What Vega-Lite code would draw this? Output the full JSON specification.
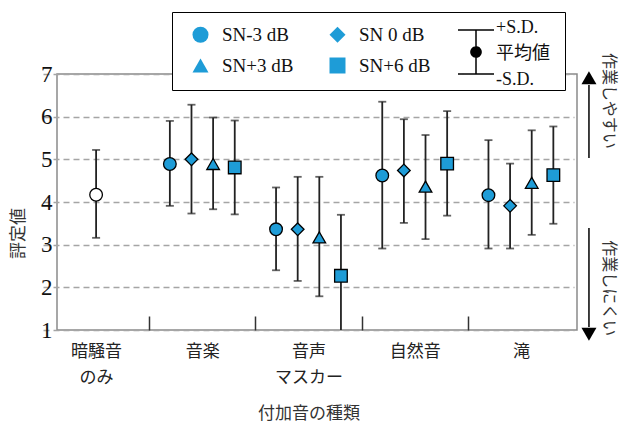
{
  "$schema": "https://vega.github.io/schema/vega-lite/v6.json",
  "width": 520,
  "height": 256,
  "autosize": {"type": "none"},
  "padding": {"left": 57, "top": 74, "right": 45, "bottom": 101},
  "background": "white",
  "config": {
    "view": {"stroke": "#8a8a8a", "strokeWidth": 1.5}
  },
  "layer": [
    {
      "data": {
        "values": [
          {"category": "暗騒音のみ", "series": "none", "mean": 4.17, "low": 3.16, "high": 5.22},
          {"category": "音楽", "series": "SN-3 dB", "mean": 4.89, "low": 3.91, "high": 5.90},
          {"category": "音楽", "series": "SN 0 dB", "mean": 5.00, "low": 3.73, "high": 6.28},
          {"category": "音楽", "series": "SN+3 dB", "mean": 4.89, "low": 3.83, "high": 5.98},
          {"category": "音楽", "series": "SN+6 dB", "mean": 4.81, "low": 3.71, "high": 5.91},
          {"category": "音声マスカー", "series": "SN-3 dB", "mean": 3.36, "low": 2.40, "high": 4.34},
          {"category": "音声マスカー", "series": "SN 0 dB", "mean": 3.36, "low": 2.15, "high": 4.59},
          {"category": "音声マスカー", "series": "SN+3 dB", "mean": 3.17, "low": 1.79, "high": 4.59},
          {"category": "音声マスカー", "series": "SN+6 dB", "mean": 2.27, "low": 0.84, "high": 3.70},
          {"category": "自然音", "series": "SN-3 dB", "mean": 4.62, "low": 2.91, "high": 6.35},
          {"category": "自然音", "series": "SN 0 dB", "mean": 4.74, "low": 3.51, "high": 5.94},
          {"category": "自然音", "series": "SN+3 dB", "mean": 4.36, "low": 3.13, "high": 5.57},
          {"category": "自然音", "series": "SN+6 dB", "mean": 4.90, "low": 3.68, "high": 6.13},
          {"category": "滝", "series": "SN-3 dB", "mean": 4.16, "low": 2.91, "high": 5.45},
          {"category": "滝", "series": "SN 0 dB", "mean": 3.91, "low": 2.91, "high": 4.90},
          {"category": "滝", "series": "SN+3 dB", "mean": 4.45, "low": 3.23, "high": 5.68},
          {"category": "滝", "series": "SN+6 dB", "mean": 4.63, "low": 3.49, "high": 5.77}
        ]
      },
      "layer": [
        {
          "transform": [{"filter": "datum.series !== 'none'"}],
          "mark": {"type": "rule", "strokeWidth": 1.8, "color": "#222", "clip": true},
          "encoding": {
            "x": {
              "field": "category", "type": "nominal",
              "scale": {"type": "band", "domain": ["暗騒音のみ", "音楽", "音声マスカー", "自然音", "滝"], "range": [-14, 517], "paddingInner": 0, "paddingOuter": 0},
              "axis": {
                "title": "付加音の種類",
                "titleFont": "Noto Sans CJK JP", "titleFontSize": 17, "titleFontWeight": "normal", "titleColor": "#333",
                "titleY": 83, "titleBaseline": "middle",
                "labelAngle": 0, "labelFont": "Noto Sans CJK JP", "labelFontSize": 17, "labelColor": "#222",
                "labelLineHeight": 26, "labelPadding": 27, "labelBaseline": "top", "labelOffset": 53.1,
                "labelExpr": "datum.value === '暗騒音のみ' ? ['暗騒音', 'のみ'] : datum.value === '音声マスカー' ? ['音声', 'マスカー'] : datum.label",
                "tickSize": -14, "tickOffset": -53.1, "tickColor": "#333", "tickWidth": 1.5,
                "tickOpacity": {"condition": {"test": "datum.value === '暗騒音のみ'", "value": 0}, "value": 1},
                "domain": false, "grid": false,
                "encode": {"labels": {"update": {"dy": {"signal": "datum.value === '音声マスカー' ? -12 : 0"}}}}
              }
            },
            "xOffset": {"field": "series", "type": "nominal", "scale": {"type": "band", "domain": ["SN-3 dB", "SN 0 dB", "SN+3 dB", "SN+6 dB"], "paddingInner": 0, "paddingOuter": 0.455}},
            "y": {
              "field": "low", "type": "quantitative",
              "scale": {"domain": [1, 7], "nice": false, "zero": false},
              "axis": {
                "title": "評定値", "values": [1, 2, 3, 4, 5, 6, 7],
                "labelFont": "Liberation Serif, Times New Roman, serif", "labelFontSize": 23, "labelColor": "#111", "labelPadding": 5,
                "labelFlush": false, "labelOverlap": false,
                "ticks": false, "domain": false,
                "grid": true, "gridDash": [6, 4], "gridColor": "#a5a5a5", "gridWidth": 1.3,
                "titleFont": "Noto Sans CJK JP", "titleFontSize": 17, "titleFontWeight": "normal", "titleColor": "#333",
                "titlePadding": 13, "titleY": 159
              }
            },
            "y2": {"field": "high"}
          }
        },
        {
          "transform": [{"filter": "datum.series !== 'none'"}],
          "mark": {"type": "tick", "orient": "horizontal", "thickness": 1.8, "size": 8, "color": "#222", "clip": true},
          "encoding": {
            "x": {"field": "category", "type": "nominal"},
            "xOffset": {"field": "series", "type": "nominal"},
            "y": {"field": "low", "type": "quantitative", "scale": {"domain": [1, 7], "nice": false, "zero": false}}
          }
        },
        {
          "transform": [{"filter": "datum.series !== 'none'"}],
          "mark": {"type": "tick", "orient": "horizontal", "thickness": 1.8, "size": 8, "color": "#222", "clip": true},
          "encoding": {
            "x": {"field": "category", "type": "nominal"},
            "xOffset": {"field": "series", "type": "nominal"},
            "y": {"field": "high", "type": "quantitative", "scale": {"domain": [1, 7], "nice": false, "zero": false}}
          }
        },
        {
          "transform": [{"filter": "datum.series !== 'none'"}],
          "mark": {"type": "point", "filled": true, "size": 160, "stroke": "black", "strokeWidth": 1.3, "opacity": 1},
          "encoding": {
            "x": {"field": "category", "type": "nominal"},
            "xOffset": {"field": "series", "type": "nominal"},
            "y": {"field": "mean", "type": "quantitative", "scale": {"domain": [1, 7], "nice": false, "zero": false}},
            "shape": {
              "field": "series", "type": "nominal",
              "scale": {"domain": ["SN-3 dB", "SN 0 dB", "SN+3 dB", "SN+6 dB"], "range": ["circle", "diamond", "triangle-up", "square"]},
              "legend": {
                "orient": "none", "legendX": 115, "legendY": -62, "columns": 2, "direction": "horizontal", "columnPadding": 28, "rowPadding": 8,
                "padding": 13, "symbolOffset": 6, "symbolSize": 256, "symbolStrokeWidth": 1.5, "symbolStrokeColor": "black",
                "labelFont": "Liberation Serif, Times New Roman, serif", "labelFontSize": 19, "labelColor": "#111", "labelOffset": 12,
                "fillColor": "white", "strokeColor": "black",
                "title": " ", "titleOrient": "right", "titlePadding": 122,
                "encode": {
                  "legend": {"update": {"strokeWidth": {"value": 1.5}}},
                  "symbols": {"update": {"stroke": {"value": "black"}, "strokeWidth": {"value": 1.5}, "opacity": {"value": 1}}}
                }
              }
            },
            "fill": {
              "field": "series", "type": "nominal",
              "scale": {"domain": ["SN-3 dB", "SN 0 dB", "SN+3 dB", "SN+6 dB"], "range": ["#1e9cd7", "#1e9cd7", "#1e9cd7", "#1e9cd7"]},
              "legend": {
                "orient": "none", "legendX": 115, "legendY": -62, "columns": 2, "direction": "horizontal", "columnPadding": 28, "rowPadding": 8,
                "padding": 13, "symbolOffset": 6, "symbolSize": 256, "symbolStrokeWidth": 1.5, "symbolStrokeColor": "black",
                "labelFont": "Liberation Serif, Times New Roman, serif", "labelFontSize": 19, "labelColor": "#111", "labelOffset": 12,
                "fillColor": "white", "strokeColor": "black",
                "title": " ", "titleOrient": "right", "titlePadding": 122,
                "encode": {
                  "legend": {"update": {"strokeWidth": {"value": 1.5}}},
                  "symbols": {"update": {"stroke": {"value": "black"}, "strokeWidth": {"value": 1.5}, "opacity": {"value": 1}}}
                }
              }
            }
          }
        },
        {
          "transform": [{"filter": "datum.series === 'none'"}],
          "mark": {"type": "rule", "strokeWidth": 1.8, "color": "#222"},
          "encoding": {
            "x": {"field": "category", "type": "nominal"},
            "y": {"field": "low", "type": "quantitative", "scale": {"domain": [1, 7], "nice": false, "zero": false}},
            "y2": {"field": "high"},
            "strokeDash": {
              "datum": "SD", "type": "nominal",
              "scale": {"domain": ["SD"], "range": [[1, 0]]},
              "legend": {
                "orient": "none", "legendX": 396, "legendY": -45, "title": null, "padding": 0,
                "symbolType": "M-0.82,-1H0.82M0,-1V1M-0.82,1H0.82M0.23,0A0.23,0.23,0,1,1,-0.23,0A0.23,0.23,0,1,1,0.23,0Z",
                "symbolSize": 1936, "symbolStrokeWidth": 1.5, "symbolStrokeColor": "black", "symbolFillColor": "black",
                "labelExpr": "['+S.D.', '平均値', '-S.D.']",
                "labelFont": "Liberation Serif, Noto Sans CJK JP", "labelFontSize": 18, "labelColor": "#111", "labelOffset": -3,
                "encode": {
                  "labels": {"update": {"lineHeight": {"value": 26}, "dy": {"value": -24}}},
                  "symbols": {"update": {"fill": {"value": "black"}, "stroke": {"value": "black"}}}
                }
              }
            }
          }
        },
        {
          "transform": [{"filter": "datum.series === 'none'"}],
          "mark": {"type": "tick", "orient": "horizontal", "thickness": 1.8, "size": 8, "color": "#222"},
          "encoding": {
            "x": {"field": "category", "type": "nominal"},
            "y": {"field": "low", "type": "quantitative", "scale": {"domain": [1, 7], "nice": false, "zero": false}}
          }
        },
        {
          "transform": [{"filter": "datum.series === 'none'"}],
          "mark": {"type": "tick", "orient": "horizontal", "thickness": 1.8, "size": 8, "color": "#222"},
          "encoding": {
            "x": {"field": "category", "type": "nominal"},
            "y": {"field": "high", "type": "quantitative", "scale": {"domain": [1, 7], "nice": false, "zero": false}}
          }
        },
        {
          "transform": [{"filter": "datum.series === 'none'"}],
          "mark": {"type": "point", "shape": "circle", "filled": true, "fill": "white", "size": 160, "stroke": "black", "strokeWidth": 1.3, "opacity": 1},
          "encoding": {
            "x": {"field": "category", "type": "nominal"},
            "y": {"field": "mean", "type": "quantitative", "scale": {"domain": [1, 7], "nice": false, "zero": false}}
          }
        }
      ]
    },
    {
      "data": {"values": [{}]},
      "layer": [
        {
          "mark": {"type": "rule", "strokeWidth": 1.5, "color": "black"},
          "encoding": {
            "x": {"datum": 102.3, "type": "quantitative", "scale": {"domain": [0, 100], "nice": false, "zero": false}, "axis": null},
            "y": {"datum": 5.03, "type": "quantitative", "scale": {"domain": [1, 7], "nice": false, "zero": false}},
            "y2": {"datum": 6.74}
          }
        },
        {
          "mark": {"type": "point", "shape": "triangle-up", "filled": true, "color": "black", "size": 225, "opacity": 1},
          "encoding": {
            "x": {"datum": 102.3, "type": "quantitative", "scale": {"domain": [0, 100], "nice": false, "zero": false}, "axis": null},
            "y": {"datum": 6.91, "type": "quantitative", "scale": {"domain": [1, 7], "nice": false, "zero": false}}
          }
        },
        {
          "mark": {"type": "rule", "strokeWidth": 1.5, "color": "black"},
          "encoding": {
            "x": {"datum": 102.3, "type": "quantitative", "scale": {"domain": [0, 100], "nice": false, "zero": false}, "axis": null},
            "y": {"datum": 3.39, "type": "quantitative", "scale": {"domain": [1, 7], "nice": false, "zero": false}},
            "y2": {"datum": 1.07}
          }
        },
        {
          "mark": {"type": "point", "shape": "triangle-down", "filled": true, "color": "black", "size": 225, "opacity": 1},
          "encoding": {
            "x": {"datum": 102.3, "type": "quantitative", "scale": {"domain": [0, 100], "nice": false, "zero": false}, "axis": null},
            "y": {"datum": 0.9, "type": "quantitative", "scale": {"domain": [1, 7], "nice": false, "zero": false}}
          }
        },
        {
          "mark": {"type": "text", "text": "作業しやすい", "angle": 90, "font": "Noto Sans CJK JP", "fontSize": 16, "color": "#333", "align": "center", "baseline": "middle"},
          "encoding": {
            "x": {"datum": 106.2, "type": "quantitative", "scale": {"domain": [0, 100], "nice": false, "zero": false}, "axis": null},
            "y": {"datum": 6.37, "type": "quantitative", "scale": {"domain": [1, 7], "nice": false, "zero": false}}
          }
        },
        {
          "mark": {"type": "text", "text": "作業しにくい", "angle": 90, "font": "Noto Sans CJK JP", "fontSize": 16, "color": "#333", "align": "center", "baseline": "middle"},
          "encoding": {
            "x": {"datum": 106.2, "type": "quantitative", "scale": {"domain": [0, 100], "nice": false, "zero": false}, "axis": null},
            "y": {"datum": 1.98, "type": "quantitative", "scale": {"domain": [1, 7], "nice": false, "zero": false}}
          }
        }
      ]
    }
  ],
  "resolve": {"scale": {"x": "independent"}}
}
